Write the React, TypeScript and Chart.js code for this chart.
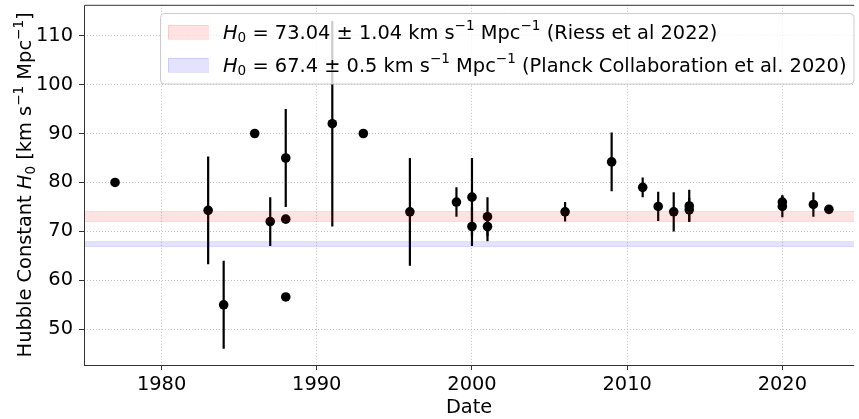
import React, { useEffect, useRef } from "react";
import { Chart, registerables } from "chart.js";

Chart.register(...registerables);

// ---- data ----
const years = [1977, 1983, 1984, 1986, 1987, 1988, 1988, 1988, 1991, 1993, 1996, 1999, 2000, 2000, 2001, 2001, 2006, 2009, 2011, 2012, 2013, 2014, 2014, 2020, 2020, 2022, 2023];
const h0Values = [80, 74.3, 55, 90, 72, 85, 72.5, 56.6, 92, 90, 74, 76, 77, 71, 73, 71, 74, 84.2, 79, 75.1, 74, 75.2, 74.4, 76, 75.1, 75.5, 74.5];
const h0Errors = [0, 11, 9, 0, 5, 10, 0, 0, 21, 0, 11, 3, 8, 4, 4, 3, 2, 6, 2, 3, 4, 3.3, 2.4, 1.4, 2.2, 2.5, 0];

const xTicks = [1980, 1990, 2000, 2010, 2020];
const yTicks = [50, 60, 70, 80, 90, 100, 110];

const bandCenters = [73.04, 67.4];
const bandErrors = [1.04, 0.5];
const bandRefs = ["Riess et al 2022", "Planck Collaboration et al. 2020"];
const bandFills = ["rgba(255,0,0,0.11)", "rgba(0,0,255,0.11)"];

const FONT = "DejaVu Sans";
const FS = 19.4;

type Seg = { t: string; it?: boolean; sub?: boolean; sup?: boolean };

function segFont(s: Seg, size: number) {
  const sz = s.sub || s.sup ? size * 0.7 : size;
  return `${s.it ? "italic " : ""}${sz}px "${FONT}"`;
}
function richWidth(ctx: CanvasRenderingContext2D, segs: Seg[], size: number) {
  let w = 0;
  for (const s of segs) {
    ctx.font = segFont(s, size);
    w += ctx.measureText(s.t).width;
  }
  return w;
}
function drawRich(ctx: CanvasRenderingContext2D, segs: Seg[], x: number, y: number, size: number) {
  let cx = x;
  ctx.textBaseline = "alphabetic";
  ctx.textAlign = "left";
  for (const s of segs) {
    ctx.font = segFont(s, size);
    const dy = s.sub ? size * 0.2 : s.sup ? -size * 0.42 : 0;
    ctx.fillText(s.t, cx, y + dy);
    cx += ctx.measureText(s.t).width;
  }
}

const legendSegs = (i: number): Seg[] => [
  { t: "H", it: true },
  { t: "0", sub: true },
  { t: ` = ${bandCenters[i]} ± ${bandErrors[i]} km s` },
  { t: "−1", sup: true },
  { t: " Mpc" },
  { t: "−1", sup: true },
  { t: ` (${bandRefs[i]})` },
];

const yTitleSegs: Seg[] = [
  { t: "Hubble Constant " },
  { t: "H", it: true },
  { t: "0", sub: true },
  { t: " [km s" },
  { t: "−1", sup: true },
  { t: " Mpc" },
  { t: "−1", sup: true },
  { t: "]" },
];

const overlayPlugin = {
  id: "overlay",
  beforeDatasetsDraw(chart: any) {
    const { ctx, chartArea: a, scales } = chart;
    ctx.save();
    ctx.beginPath();
    ctx.rect(a.left, a.top, a.right - a.left, a.bottom - a.top);
    ctx.clip();
    ctx.strokeStyle = "#000";
    ctx.lineWidth = 2.2;
    years.forEach((yr, i) => {
      const e = h0Errors[i];
      if (!e) return;
      const x = scales.x.getPixelForValue(yr);
      const y1 = scales.y.getPixelForValue(h0Values[i] + e);
      const y2 = scales.y.getPixelForValue(h0Values[i] - e);
      ctx.beginPath();
      ctx.moveTo(x, y1);
      ctx.lineTo(x, y2);
      ctx.stroke();
    });
    ctx.restore();
  },
  afterDatasetsDraw(chart: any) {
    const { ctx, chartArea: a, scales } = chart;
    ctx.save();
    ctx.beginPath();
    ctx.rect(a.left, a.top, a.right - a.left, a.bottom - a.top);
    ctx.clip();
    bandCenters.forEach((c, i) => {
      const yt = scales.y.getPixelForValue(c + bandErrors[i]);
      const yb = scales.y.getPixelForValue(c - bandErrors[i]);
      ctx.fillStyle = bandFills[i];
      ctx.fillRect(a.left, yt, a.right - a.left, yb - yt);
      ctx.strokeStyle = bandFills[i];
      ctx.lineWidth = 1;
      ctx.strokeRect(a.left - 2, yt, a.right - a.left + 4, yb - yt);
    });
    ctx.restore();
    // spines
    ctx.save();
    ctx.strokeStyle = "#333";
    ctx.lineWidth = 1;
    ctx.beginPath();
    ctx.moveTo(a.left + 0.5, a.bottom);
    ctx.lineTo(a.left + 0.5, a.top + 0.5);
    ctx.lineTo(a.right, a.top + 0.5);
    ctx.moveTo(a.left, a.bottom + 0.5);
    ctx.lineTo(a.right, a.bottom + 0.5);
    ctx.stroke();
    ctx.restore();
  },
  afterDraw(chart: any) {
    const { ctx, chartArea: a } = chart;
    ctx.save();
    // legend
    const lx = 160.5, ly = 13.5, lw = 693.5, lh = 70.5;
    ctx.beginPath();
    (ctx as any).roundRect(lx, ly, lw, lh, 4);
    ctx.fillStyle = "rgba(255,255,255,0.8)";
    ctx.fill();
    ctx.strokeStyle = "#cccccc";
    ctx.lineWidth = 1;
    ctx.stroke();
    const rowTop = [25, 58];
    const baselines = [38.6, 71.5];
    bandCenters.forEach((_, i) => {
      ctx.fillStyle = bandFills[i];
      ctx.fillRect(168, rowTop[i], 40, 14);
      ctx.strokeStyle = bandFills[i];
      ctx.strokeRect(168.5, rowTop[i] + 0.5, 40, 14);
      ctx.fillStyle = "#000";
      drawRich(ctx, legendSegs(i), 223, baselines[i], FS);
    });
    // x title
    ctx.fillStyle = "#000";
    ctx.font = `${FS}px "${FONT}"`;
    ctx.textAlign = "center";
    ctx.textBaseline = "alphabetic";
    ctx.fillText("Date", (a.left + a.right) / 2, 413);
    // y title
    ctx.save();
    ctx.translate(31, (a.top + a.bottom) / 2);
    ctx.rotate(-Math.PI / 2);
    const w = richWidth(ctx, yTitleSegs, FS);
    drawRich(ctx, yTitleSegs, -w / 2, 0, FS);
    ctx.restore();
    ctx.restore();
  },
};

export default function App() {
  const ref = useRef<HTMLCanvasElement | null>(null);
  useEffect(() => {
    document.body.style.margin = "0";
    const canvas = ref.current!;
    const gridCommon = {
      color: "#b0b0b0",
      lineWidth: 0.8,
      drawTicks: true,
      tickLength: 5,
      tickColor: "#333",
      tickWidth: 1,
    };
    const chart = new Chart(canvas, {
      type: "scatter",
      data: {
        datasets: [
          {
            data: years.map((x, i) => ({ x, y: h0Values[i] })),
            backgroundColor: "#000",
            borderWidth: 0,
            pointRadius: 4.8,
            pointHoverRadius: 4.8,
          },
        ],
      },
      options: {
        animation: false,
        responsive: false,
        devicePixelRatio: 1,
        layout: { padding: { left: 0, right: 0, top: 3, bottom: 0 } },
        plugins: { legend: { display: false }, tooltip: { enabled: false } },
        scales: {
          x: {
            type: "linear",
            min: 1975,
            max: 2024.63,
            afterBuildTicks: (s: any) => {
              s.ticks = xTicks.map((v) => ({ value: v }));
            },
            afterFit: (s: any) => {
              s.height = 54;
              s.paddingLeft = 0;
              s.paddingRight = 0;
            },
            grid: gridCommon,
            border: { display: false, dash: [1, 2] },
            ticks: {
              font: { family: FONT, size: FS },
              color: "#000",
              padding: 3,
              maxRotation: 0,
              autoSkip: false,
              callback: (v: any) => String(v),
            },
          },
          y: {
            type: "linear",
            min: 42.7,
            max: 116.3,
            afterBuildTicks: (s: any) => {
              s.ticks = yTicks.map((v) => ({ value: v }));
            },
            afterFit: (s: any) => {
              s.width = 84;
              s.paddingTop = 0;
              s.paddingBottom = 0;
            },
            grid: gridCommon,
            border: { display: false, dash: [1, 2] },
            ticks: {
              font: { family: FONT, size: FS },
              color: "#000",
              padding: 6,
              autoSkip: false,
              callback: (v: any) => String(v),
            },
          },
        },
      },
      plugins: [overlayPlugin],
    } as any);
    return () => chart.destroy();
  }, []);
  return (
    <div style={{ width: 859, height: 419 }}>
      <canvas ref={ref} width={859} height={419} style={{ display: "block" }} />
    </div>
  );
}
